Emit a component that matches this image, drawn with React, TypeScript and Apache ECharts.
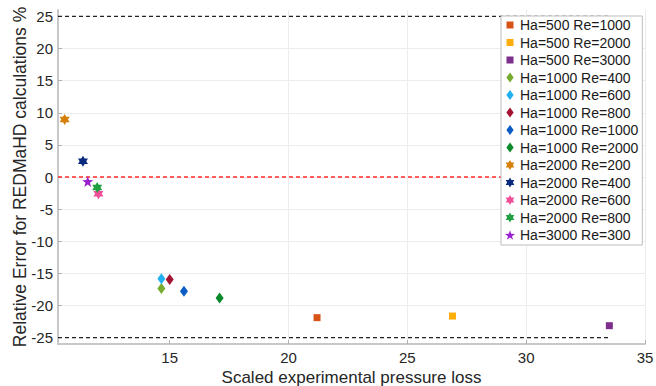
import React, { useEffect, useRef } from "react";
import * as echarts from "echarts";

// ---- data ----
const seriesNames = [
  "Ha=500 Re=1000",
  "Ha=500 Re=2000",
  "Ha=500 Re=3000",
  "Ha=1000 Re=400",
  "Ha=1000 Re=600",
  "Ha=1000 Re=800",
  "Ha=1000 Re=1000",
  "Ha=1000 Re=2000",
  "Ha=2000 Re=200",
  "Ha=2000 Re=400",
  "Ha=2000 Re=600",
  "Ha=2000 Re=800",
  "Ha=3000 Re=300",
];
const seriesX = [21.2, 26.9, 33.5, 14.65, 14.65, 15.0, 15.6, 17.1, 10.58, 11.35, 12.0, 11.95, 11.55];
const seriesY = [-21.9, -21.65, -23.15, -17.35, -15.85, -15.95, -17.8, -18.85, 8.95, 2.45, -2.6, -1.65, -0.7];
const seriesColors = [
  "#d95319", "#fdae0c", "#7e2f8e",
  "#77ac30", "#22b0f0", "#a2142f", "#0b5cc7", "#0a8a2a",
  "#d4800a", "#0a2a80", "#f0509a", "#20a040", "#9a20d0",
];
const seriesShapes = [
  "square", "square", "square",
  "diamond", "diamond", "diamond", "diamond", "diamond",
  "hexagram", "hexagram", "hexagram", "hexagram", "pentagram",
];

const xTicks = [15, 20, 25, 30, 35];
const yTicks = [-25, -20, -15, -10, -5, 0, 5, 10, 15, 20, 25];
const xMin = 10.3;
const xMax = 35;
const yMin = -26;
const yMax = 26;

const limitX = [10.3, 33.5];
const upperLimit = [25, 25];
const lowerLimit = [-25, -25];
const zeroLine = [0, 0];

// ---- symbols ----
const HEX =
  "path://M10 0L12.885 5L18.66 5L15.77 10L18.66 15L12.885 15L10 20L7.115 15L1.34 15L4.23 10L1.34 5L7.115 5Z";
const PENT =
  "path://M10 0L12.351 6.764L19.511 6.91L13.804 11.236L15.878 18.09L10 14L4.122 18.09L6.196 11.236L0.489 6.91L7.649 6.764Z";
const LEGEND_SQUARE = "path://M0 0M10 10M1.5 1.5L8.5 1.5L8.5 8.5L1.5 8.5Z";
const LEGEND_DIAMOND = "path://M4 0L8 5.5L4 11L0 5.5Z";

const symbolFor = (s: string) =>
  s === "square" ? "rect" : s === "diamond" ? "diamond" : s === "hexagram" ? HEX : PENT;
const sizeFor = (s: string) =>
  s === "square" ? 7 : s === "diamond" ? [8, 11] : s === "hexagram" ? [10, 11] : 11;
const legendIconFor = (s: string) =>
  s === "square" ? LEGEND_SQUARE : s === "diamond" ? LEGEND_DIAMOND : s === "hexagram" ? HEX : PENT;

const FONT = "'Liberation Sans', Arial, sans-serif";
const TEXT = "#262626";

export default function App() {
  const ref = useRef<HTMLDivElement>(null);
  useEffect(() => {
    if (!ref.current) return;
    const chart = echarts.init(ref.current, undefined, { renderer: "svg" });

    const scatterSeries = seriesNames.map((name, i) => ({
      type: "scatter",
      name,
      data: [[seriesX[i], seriesY[i]]],
      symbol: symbolFor(seriesShapes[i]),
      symbolSize: sizeFor(seriesShapes[i]),
      itemStyle: { color: seriesColors[i], opacity: 1 },
      z: 3,
    }));

    const refLine = (ys: number[], color: string) => ({
      type: "line",
      data: limitX.map((x, k) => [x, ys[k]]),
      symbol: "none",
      silent: true,
      lineStyle: { color, width: 1.3, type: [4, 3] },
      z: 2,
    });

    chart.setOption({
      animation: false,
      backgroundColor: "#ffffff",
      textStyle: { fontFamily: FONT },
      grid: {
        left: 58,
        right: 11,
        top: 10,
        bottom: 42,
        containLabel: false,
        outerBoundsMode: "none",
      },
      xAxis: {
        type: "value",
        min: xMin,
        max: xMax,
        splitNumber: 5,
        name: "Scaled experimental pressure loss",
        nameLocation: "middle",
        nameGap: 24,
        nameMoveOverlap: false,
        nameTextStyle: { fontSize: 17, lineHeight: 18, color: TEXT, fontFamily: FONT },
        axisLine: { show: true, onZero: false, lineStyle: { color: "#c8c8c8", width: 2 } },
        axisTick: {
          show: true,
          inside: true,
          length: 4,
          customValues: xTicks,
          lineStyle: { color: "#b0b0b0" },
        },
        axisLabel: {
          customValues: xTicks,
          fontSize: 15,
          lineHeight: 15,
          color: TEXT,
          margin: 6,
          fontFamily: FONT,
          formatter: (v: number) => (xTicks.includes(v) ? String(v) : ""),
        },
        splitLine: {
          show: true,
          showMinLine: false,
          lineStyle: { color: "#ececec", width: 1 },
        },
      },
      yAxis: {
        type: "value",
        min: yMin,
        max: yMax,
        splitNumber: 10,
        name: "Relative Error for REDMaHD calculations %",
        nameLocation: "middle",
        nameGap: 29,
        nameMoveOverlap: false,
        nameTextStyle: { fontSize: 17.5, color: TEXT, fontFamily: FONT },
        axisLine: { show: true, onZero: false, lineStyle: { color: "#c8c8c8", width: 2 } },
        axisTick: {
          show: true,
          inside: true,
          length: 4,
          customValues: yTicks,
          lineStyle: { color: "#b0b0b0" },
        },
        axisLabel: {
          customValues: yTicks,
          fontSize: 15,
          color: TEXT,
          margin: 5,
          fontFamily: FONT,
          formatter: (v: number) => (yTicks.includes(v) ? String(v) : ""),
        },
        splitLine: {
          show: true,
          showMinLine: false,
          showMaxLine: false,
          lineStyle: { color: "#ececec", width: 1 },
        },
      },
      legend: {
        left: 501,
        top: 16,
        orient: "vertical",
        backgroundColor: "#ffffff",
        borderColor: "#bdbdbd",
        borderWidth: 1,
        padding: [2, 4, 3, 4],
        itemWidth: 10,
        itemHeight: 10,
        itemGap: 3.5,
        selectedMode: false,
        textStyle: { fontSize: 14, lineHeight: 14, color: "#1a1a1a", fontFamily: FONT },
        data: seriesNames.map((name, i) => ({
          name,
          icon: legendIconFor(seriesShapes[i]),
          itemStyle: { color: seriesColors[i], opacity: 1 },
        })),
      },
      series: [
        refLine(upperLimit, "#222222"),
        refLine(lowerLimit, "#222222"),
        refLine(zeroLine, "#ff2a2a"),
        ...scatterSeries,
      ],
    });

    return () => chart.dispose();
  }, []);

  return <div ref={ref} style={{ width: 656, height: 386, position: "fixed", left: 0, top: 0 }} />;
}
